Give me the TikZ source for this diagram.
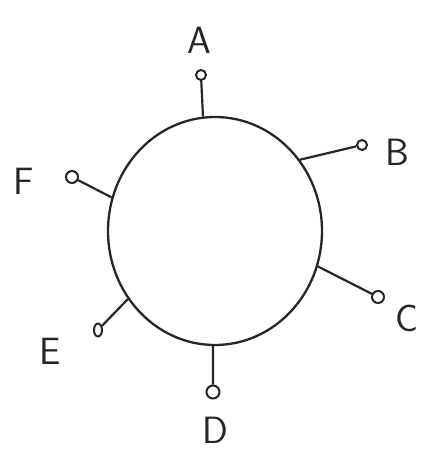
\documentclass[tikz,border=0pt]{standalone}
\usepackage{tikz}
\usetikzlibrary{shapes.geometric}

\begin{document}
\begin{tikzpicture}[
    x=1pt, y=-1pt,
    hub/.style = {ellipse, draw=black!85, line width=2.3pt, minimum width=214pt, minimum height=228pt, inner sep=0pt},
    port/.style = {circle, draw=black!85, line width=2pt, minimum size=10pt, inner sep=0pt},
    stub/.style = {draw=black!85, line width=2.2pt},
    tag/.style = {font=\sffamily\fontsize{38}{38}\selectfont, text=black!85, inner sep=0pt}
]
\useasboundingbox (0,0) rectangle (429,454);

\node (hub) [hub] at (215,231) {};

% ports round the hub
\node (pA) [port] at (201,75) {};
\node (pB) [port] at (362,145) {};
\node (pC) [port, minimum size=12pt] at (378,297) {};
\node (pD) [port, minimum size=13pt] at (213,392) {};
\node (pE) [port, ellipse, minimum width=8pt, minimum height=13pt] at (98,330) {};
\node (pF) [port, minimum size=12pt] at (72,177) {};

\draw [stub] (hub.96.5) -- (pA);
\draw [stub] (hub.40.6) -- (pB);
\draw [stub] (hub.-19) -- (pC);
\draw [stub] (hub.-91) -- (pD);
\draw [stub] (hub.-142) -- (pE);
\draw [stub] (hub.162.5) -- (pF);

% labels
\node (lA) [tag] at (199,40) {A};
\node (lB) [tag] at (397,152) {B};
\node (lC) [tag] at (407,318) {C};
\node (lD) [tag] at (215,430) {D};
\node (lE) [tag] at (50,351) {E};
\node (lF) [tag] at (24,181) {F};

\end{tikzpicture}
\end{document}
